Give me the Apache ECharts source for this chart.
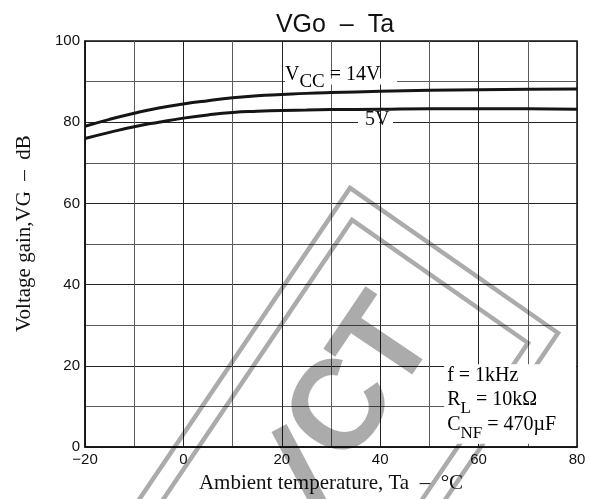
<!DOCTYPE html>
<html>
<head>
<meta charset="utf-8">
<script src="https://cdn.jsdelivr.net/npm/echarts@6/dist/echarts.min.js"></script>
<style>
  html, body { margin: 0; padding: 0; background: #fff; }
  #c { width: 590px; height: 499px; }
</style>
</head>
<body>
<div id="c"></div>
<script>
// Ambient temperature (°C) sample points
const temps = [-20, -15, -10, -5, 0, 5, 10, 15, 20, 25, 30, 40, 50, 60, 70, 80];
// Voltage gain (dB) at VCC = 14 V
const gain14V = [79.0, 80.7, 82.2, 83.5, 84.5, 85.3, 86.0, 86.5, 86.8, 87.1, 87.3, 87.6, 87.85, 88.0, 88.1, 88.2];
// Voltage gain (dB) at VCC = 5 V
const gain5V = [76.0, 77.5, 78.9, 80.0, 81.0, 81.8, 82.4, 82.7, 82.9, 83.0, 83.1, 83.2, 83.3, 83.3, 83.3, 83.2];
// Labelled ticks
const xTickLabels = [-20, 0, 20, 40, 60, 80];
const yTickLabels = [0, 20, 40, 60, 80, 100];

const SANS = '"Liberation Sans", Arial, sans-serif';
const SERIF = '"Liberation Serif", "Times New Roman", serif';
const INK = '#111';

const chart = echarts.init(document.getElementById('c'), null, { renderer: 'canvas' });

const fmtNum = v => (v < 0 ? '\u2212' + (-v) : String(v));

const option = {
  animation: false,
  backgroundColor: '#fff',
  title: {
    text: 'VGo  \u2013  Ta',
    left: 330,
    top: 8,
    textAlign: 'center',
    textStyle: { fontFamily: SANS, fontSize: 25, fontWeight: 'normal', color: INK }
  },
  grid: {
    left: 85, right: 13, top: 41, bottom: 51,
    show: true, borderColor: INK, borderWidth: 1.5, backgroundColor: 'transparent'
  },
  xAxis: {
    type: 'value', min: -20, max: 80, interval: 10,
    name: 'Ambient temperature, Ta  \u2013  \u00B0C',
    nameLocation: 'middle', nameGap: 26,
    nameTextStyle: { fontFamily: SERIF, fontSize: 21, color: INK },
    axisLine: { show: true, onZero: false, lineStyle: { color: INK, width: 1.5 } },
    axisTick: { show: false },
    axisLabel: {
      margin: 5, fontFamily: SANS, fontSize: 15, color: INK,
      formatter: v => (xTickLabels.includes(v) ? fmtNum(v) : '')
    },
    splitLine: { show: true, lineStyle: { color: ['#222', '#5a5a5a'], width: 1 } }
  },
  yAxis: {
    type: 'value', min: 0, max: 100, interval: 10,
    name: 'Voltage gain,VG  \u2013  dB',
    nameLocation: 'middle', nameGap: 50,
    nameTextStyle: { fontFamily: SERIF, fontSize: 21, color: INK, padding: [0, 0, 0, 21] },
    axisLine: { show: true, onZero: false, lineStyle: { color: INK, width: 1.5 } },
    axisTick: { show: false },
    axisLabel: {
      margin: 5, fontFamily: SANS, fontSize: 15, color: INK,
      formatter: v => (yTickLabels.includes(v) ? fmtNum(v) : '')
    },
    splitLine: { show: true, lineStyle: { color: ['#222', '#5a5a5a'], width: 1 } }
  },
  series: [
    {
      name: 'VCC = 14V', type: 'line', smooth: 0.5, symbol: 'none',
      lineStyle: { color: '#151515', width: 3 },
      data: temps.map((t, i) => [t, gain14V[i]])
    },
    {
      name: '5V', type: 'line', smooth: 0.5, symbol: 'none',
      lineStyle: { color: '#151515', width: 3 },
      data: temps.map((t, i) => [t, gain5V[i]])
    }
  ]
};
chart.setOption(option);

// Overlay: curve labels, condition box and the stamp
const px = (x, y) => chart.convertToPixel({ gridIndex: 0 }, [x, y]);
const gridRight = px(80, 0)[0];
const y90 = px(0, 90)[1];
const y80 = px(0, 80)[1];
const x40 = px(40, 0)[0];
const stamp = 'rgba(0,0,0,0.33)';
const rot = 56 * Math.PI / 180;

const main20 = { fontFamily: SERIF, fontSize: 20, lineHeight: 20, verticalAlign: 'top', color: INK };
const subVcc = { fontFamily: SERIF, fontSize: 19, lineHeight: 26, verticalAlign: 'bottom', color: INK };
const subBox = { fontFamily: SERIF, fontSize: 17, lineHeight: 27, verticalAlign: 'bottom', color: INK };

const boxLeft = px(53, 0)[0];
const boxTop = px(0, 20.4)[1];
const boxBottom = px(0, 0.8)[1];

const graphics = [
  // stamp frames
  {
    type: 'polyline', silent: true, z: 4,
    shape: { points: [[105, 550], [350, 188], [558, 333], [411, 550]] },
    style: { stroke: stamp, lineWidth: 4.5, fill: null, lineJoin: 'miter' }
  },
  {
    type: 'polyline', silent: true, z: 4,
    shape: { points: [[129, 550], [352, 220], [528, 343], [388, 550]] },
    style: { stroke: stamp, lineWidth: 4.5, fill: null, lineJoin: 'miter' }
  },
  // stamp lettering
  {
    type: 'text', silent: true, z: 4, x: 388, y: 347, rotation: rot,
    style: { text: 'T', font: 'bold 128px ' + SANS, fill: stamp, textAlign: 'center', textVerticalAlign: 'middle' }
  },
  {
    type: 'text', silent: true, z: 4, x: 344, y: 411, rotation: rot,
    style: { text: 'C', font: 'bold 128px ' + SANS, fill: stamp, textAlign: 'center', textVerticalAlign: 'middle' }
  },
  {
    type: 'polygon', silent: true, z: 4,
    shape: { points: [[271.5, 432], [286.5, 424], [338.5, 522], [323.5, 530]] },
    style: { fill: stamp }
  },
  // gaps in grid lines behind the curve labels
  { type: 'rect', silent: true, z: 5, shape: { x: 285, y: y90 - 3, width: 112, height: 6 }, style: { fill: '#fff' } },
  { type: 'rect', silent: true, z: 5, shape: { x: 358, y: y80 - 3, width: x40 - 1 - 358, height: 6 }, style: { fill: '#fff' } },
  { type: 'rect', silent: true, z: 5, shape: { x: x40 + 1, y: y80 - 3, width: 393 - x40 - 1, height: 6 }, style: { fill: '#fff' } },
  // condition box
  { type: 'rect', silent: true, z: 5, shape: { x: boxLeft, y: boxTop, width: gridRight - 1 - boxLeft, height: boxBottom - boxTop }, style: { fill: '#fff' } },
  {
    type: 'text', silent: true, z: 6, x: 285, y: y90 - 16.5,
    style: { text: '{a|V}{b|CC}{a| = 14V}', rich: { a: main20, b: subVcc }, textAlign: 'left', textVerticalAlign: 'top' }
  },
  {
    type: 'text', silent: true, z: 6, x: 365, y: y80 - 2,
    style: { text: '5V', font: '20px ' + SERIF, fill: INK, textAlign: 'left', textVerticalAlign: 'middle' }
  },
  {
    type: 'text', silent: true, z: 6, x: boxLeft + 3, y: 366,
    style: { text: '{a|f = 1kHz}', rich: { a: main20 }, textAlign: 'left', textVerticalAlign: 'top' }
  },
  {
    type: 'text', silent: true, z: 6, x: boxLeft + 3, y: 390,
    style: { text: '{a|R}{b|L}{a| = 10k\u03A9}', rich: { a: main20, b: subBox }, textAlign: 'left', textVerticalAlign: 'top' }
  },
  {
    type: 'text', silent: true, z: 6, x: boxLeft + 3, y: 415,
    style: { text: '{a|C}{b|NF}{a| = 470\u00B5F}', rich: { a: main20, b: subBox }, textAlign: 'left', textVerticalAlign: 'top' }
  }
];
chart.setOption({ graphic: graphics });
</script>
</body>
</html>
